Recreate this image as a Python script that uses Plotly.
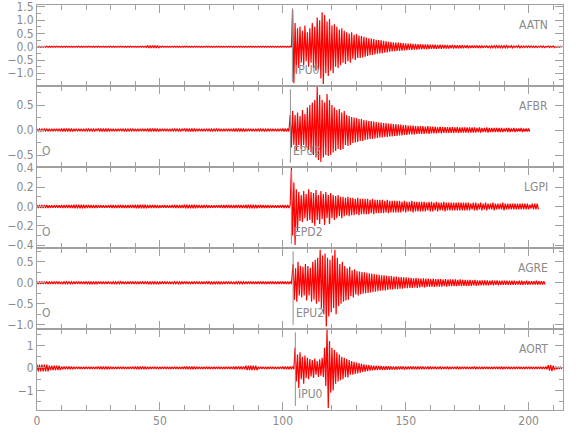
import plotly.graph_objects as go
from plotly.subplots import make_subplots

# ---------------- data ----------------
stations = ["AATN", "AFBR", "LGPI", "AGRE", "AORT"]
phase_names = ["IPU0", "EPU2", "EPD2", "EPU2", "IPU0"]
phase_times = [103.9, 103.1, 103.5, 104.2, 105.1]
origin_label = "O"
origin_time = 0.8
origin_panels = [1, 2, 3]

x_tick_vals = [0, 50, 100, 150, 200]
x_range = [0, 214]

y_ranges = [[-1.48, 1.575], [-0.74, 0.88], [-0.43, 0.41], [-1.1, 0.83], [-1.87, 1.73]]
y_tickvals = [[1.5, 1.0, 0.5, 0.0, -0.5, -1.0], [0.5, 0.0, -0.5], [0.4, 0.2, 0.0, -0.2, -0.4],
              [0.5, 0.0, -0.5, -1.0], [1, 0, -1]]
y_minor = [0.25, 0.25, 0.1, 0.25, 0.5]
y_formats = [".1f", ".1f", ".1f", ".1f", "d"]

# pre-event noise amplitude, per 5 s bin
noise_1 = [0.02, 0.02, 0.02, 0.02, 0.02, 0.02, 0.02, 0.02, 0.02, 0.05, 0.02, 0.02, 0.02, 0.02, 0.02, 0.02, 0.02, 0.02, 0.02, 0.02, 0.02]
noise_2 = [0.02, 0.025, 0.03, 0.025, 0.02, 0.03, 0.025, 0.02, 0.025, 0.03, 0.025, 0.02, 0.03, 0.025, 0.02, 0.025, 0.03, 0.025, 0.02, 0.025, 0.03]
noise_3 = [0.015, 0.012, 0.015, 0.018, 0.015, 0.012, 0.015, 0.015, 0.018, 0.015, 0.012, 0.015, 0.018, 0.015, 0.012, 0.015, 0.015, 0.018, 0.015, 0.012, 0.015]
noise_4 = [0.03, 0.03, 0.025, 0.03, 0.035, 0.03, 0.025, 0.03, 0.03, 0.035, 0.03, 0.025, 0.03, 0.03, 0.035, 0.03, 0.025, 0.03, 0.03, 0.03, 0.03]
noise_5 = [0.15, 0.10, 0.06, 0.05, 0.05, 0.06, 0.05, 0.05, 0.06, 0.05, 0.05, 0.05, 0.06, 0.05, 0.05, 0.05, 0.06, 0.10, 0.05, 0.05, 0.06]

# strong part: per-second peak (hi) and trough (lo) values from the onset
hi_1 = [1.40, 0.90, 0.70, 0.75, 0.60, 0.80, 0.55, 0.70, 0.90, 0.75, 1.10, 1.00, 1.30, 1.20, 0.95, 1.05, 0.80, 0.85, 0.75, 0.65, 0.70, 0.60, 0.55, 0.50, 0.55, 0.45, 0.48]
lo_1 = [-1.38, -1.00, -0.80, -0.60, -0.70, -0.55, -0.75, -0.60, -0.80, -0.90, -0.85, -1.20, -1.40, -1.00, -1.10, -0.90, -1.00, -0.75, -0.80, -0.70, -0.60, -0.65, -0.55, -0.60, -0.45, -0.50, -0.42]
hi_2 = [0.30, 0.38, 0.30, 0.35, 0.28, 0.40, 0.32, 0.45, 0.50, 0.55, 0.60, 0.86, 0.70, 0.60, 0.55, 0.72, 0.60, 0.50, 0.45, 0.40, 0.42, 0.35, 0.38, 0.30, 0.28]
lo_2 = [-0.35, -0.30, -0.40, -0.30, -0.38, -0.30, -0.35, -0.40, -0.45, -0.50, -0.55, -0.60, -0.64, -0.55, -0.50, -0.52, -0.50, -0.45, -0.42, -0.38, -0.40, -0.38, -0.30, -0.32, -0.30]
hi_3 = [0.40, 0.25, 0.18, 0.15, 0.12, 0.16, 0.13, 0.18, 0.15, 0.14, 0.17, 0.12, 0.16, 0.13, 0.15, 0.12, 0.14, 0.12, 0.11, 0.12, 0.10]
lo_3 = [-0.30, -0.40, -0.25, -0.15, -0.16, -0.12, -0.15, -0.14, -0.17, -0.20, -0.14, -0.18, -0.13, -0.19, -0.12, -0.18, -0.12, -0.14, -0.12, -0.10, -0.12]
hi_4 = [0.45, 0.35, 0.50, 0.40, 0.38, 0.45, 0.40, 0.36, 0.50, 0.55, 0.60, 0.79, 0.65, 0.70, 0.60, 0.55, 0.65, 0.79, 0.60, 0.45, 0.50, 0.40, 0.35, 0.38, 0.30, 0.32, 0.28]
lo_4 = [-0.40, -0.45, -0.30, -0.35, -0.30, -0.42, -0.30, -0.45, -0.40, -0.50, -0.45, -0.60, -0.75, -1.04, -0.80, -0.70, -0.60, -0.75, -0.55, -0.50, -0.45, -0.42, -0.40, -0.32, -0.35, -0.28, -0.30]
hi_5 = [0.89, 0.60, 0.70, 0.50, 0.55, 0.45, 0.40, 0.35, 0.42, 0.30, 0.38, 0.45, 0.90, 1.70, 1.20, 0.90, 0.80, 0.70, 0.60, 0.50, 0.45, 0.40, 0.35]
lo_5 = [-0.60, -0.89, -0.50, -0.70, -0.45, -0.50, -0.38, -0.45, -0.30, -0.40, -0.35, -0.40, -0.80, -1.78, -1.10, -1.00, -0.70, -0.60, -0.55, -0.50, -0.40, -0.42, -0.30]

# coda: per-second amplitude after the strong part
tail_1 = [0.42, 0.40, 0.38, 0.35, 0.32, 0.31, 0.29, 0.26, 0.25, 0.24,
          0.22, 0.21, 0.19, 0.18, 0.17, 0.16, 0.16, 0.15, 0.14, 0.13,
          0.12, 0.12, 0.11, 0.11, 0.10, 0.10, 0.09, 0.09, 0.09, 0.08,
          0.08, 0.08, 0.07, 0.08, 0.07, 0.07, 0.07, 0.06, 0.07, 0.06,
          0.06, 0.06, 0.06, 0.05, 0.06, 0.05, 0.05, 0.05, 0.05, 0.05,
          0.05, 0.04, 0.05, 0.04, 0.04, 0.04, 0.04, 0.04, 0.04, 0.04,
          0.04, 0.03, 0.04, 0.03, 0.03, 0.04, 0.03, 0.03, 0.03, 0.03,
          0.03, 0.03, 0.03, 0.02, 0.03, 0.03, 0.02, 0.03, 0.02, 0.03, 0.02, 0.02, 0.02]
tail_2 = [0.26, 0.25, 0.24, 0.22, 0.22, 0.20, 0.19, 0.18, 0.18, 0.17,
          0.16, 0.15, 0.15, 0.14, 0.14, 0.13, 0.13, 0.12, 0.12, 0.11,
          0.11, 0.10, 0.10, 0.09, 0.09, 0.09, 0.08, 0.08, 0.08, 0.08,
          0.07, 0.08, 0.07, 0.07, 0.07, 0.06, 0.07, 0.06, 0.06, 0.06,
          0.06, 0.06, 0.05, 0.06, 0.05, 0.05, 0.05, 0.05, 0.05, 0.05,
          0.05, 0.04, 0.05, 0.04, 0.04, 0.05, 0.04, 0.04, 0.04, 0.04,
          0.04, 0.04, 0.03, 0.04, 0.04, 0.03, 0.04, 0.03, 0.03, 0.04, 0.03, 0.03, 0.03]
tail_3 = [0.10, 0.09, 0.10, 0.09, 0.09, 0.08, 0.09, 0.08, 0.08, 0.08,
          0.08, 0.07, 0.08, 0.07, 0.07, 0.07, 0.07, 0.06, 0.07, 0.06,
          0.06, 0.06, 0.06, 0.06, 0.05, 0.06, 0.05, 0.05, 0.06, 0.05,
          0.05, 0.05, 0.05, 0.05, 0.04, 0.05, 0.05, 0.04, 0.05, 0.04,
          0.04, 0.05, 0.04, 0.04, 0.04, 0.04, 0.04, 0.04, 0.04, 0.04,
          0.04, 0.04, 0.03, 0.04, 0.04, 0.03, 0.04, 0.03, 0.04, 0.03,
          0.03, 0.04, 0.03, 0.03, 0.03, 0.04, 0.03, 0.03, 0.03, 0.03,
          0.03, 0.03, 0.03, 0.03, 0.03, 0.03, 0.02, 0.03, 0.03, 0.03]
tail_4 = [0.27, 0.26, 0.25, 0.24, 0.23, 0.22, 0.21, 0.20, 0.19, 0.18,
          0.18, 0.17, 0.16, 0.16, 0.15, 0.15, 0.14, 0.14, 0.13, 0.13,
          0.12, 0.12, 0.11, 0.12, 0.11, 0.10, 0.11, 0.10, 0.10, 0.09,
          0.10, 0.09, 0.09, 0.09, 0.08, 0.09, 0.08, 0.08, 0.08, 0.08,
          0.07, 0.08, 0.07, 0.07, 0.07, 0.07, 0.06, 0.07, 0.06, 0.06,
          0.06, 0.06, 0.06, 0.05, 0.06, 0.05, 0.06, 0.05, 0.05, 0.05,
          0.05, 0.05, 0.05, 0.05, 0.04, 0.05, 0.05, 0.04, 0.05, 0.04,
          0.04, 0.04, 0.05, 0.04, 0.04, 0.04]
tail_5 = [0.30, 0.27, 0.24, 0.21, 0.18, 0.16, 0.14, 0.12,
          0.11, 0.10, 0.10, 0.09, 0.09, 0.08, 0.08, 0.08, 0.07, 0.07,
          0.07, 0.07, 0.06, 0.07, 0.06, 0.06, 0.06, 0.06, 0.06, 0.06,
          0.06, 0.06, 0.05, 0.06, 0.06, 0.05, 0.06, 0.05, 0.06, 0.05,
          0.05, 0.06, 0.05, 0.05, 0.05, 0.06, 0.05, 0.05, 0.05, 0.05,
          0.05, 0.05, 0.06, 0.05, 0.05, 0.05, 0.05, 0.05, 0.05, 0.05,
          0.05, 0.05, 0.05, 0.06, 0.05, 0.05, 0.05, 0.05, 0.05, 0.05,
          0.05, 0.05, 0.05, 0.05, 0.05, 0.05, 0.05, 0.05, 0.05, 0.05,
          0.05, 0.06, 0.12, 0.14, 0.10, 0.06, 0.05, 0.05]

onsets = [104.0, 103.0, 103.5, 104.2, 105.0]
noises = [noise_1, noise_2, noise_3, noise_4, noise_5]
his = [hi_1, hi_2, hi_3, hi_4, hi_5]
los = [lo_1, lo_2, lo_3, lo_4, lo_5]
tails = [tail_1, tail_2, tail_3, tail_4, tail_5]

# ---------------- style ----------------
RED = "#ff0000"
AX = "#a0a0a0"
TXT = "#8a8a8a"
FONT = "DejaVu Sans Condensed, Liberation Sans Narrow, Arial Narrow, sans-serif"


def build(noise, onset, hi, lo, tail):
    xs, ys = [], []
    for k in range(int(onset * 2)):
        t = k * 0.5
        a = noise[min(int(t // 5), len(noise) - 1)]
        xs.append(t)
        ys.append(a if k % 2 == 0 else -a)
    for i, (h, l) in enumerate(zip(hi, lo)):
        t = onset + i
        xs += [t, t + 0.5]
        ys += [h, l]
    start = onset + len(hi)
    for i, a in enumerate(tail):
        t = start + i
        xs += [t, t + 0.5]
        ys += [a, -a]
    return xs, ys


fig = make_subplots(rows=5, cols=1, shared_xaxes=True, vertical_spacing=0)

for r in range(5):
    xs, ys = build(noises[r], onsets[r], his[r], los[r], tails[r])
    fig.add_trace(go.Scatter(x=xs, y=ys, mode="lines",
                             line=dict(color=RED, width=1.2),
                             showlegend=False, hoverinfo="skip"),
                  row=r + 1, col=1)

    fig.update_yaxes(range=y_ranges[r], tickvals=y_tickvals[r],
                     tickformat=y_formats[r], row=r + 1, col=1, automargin=False,
                     ticklabeloverflow="allow",
                     showline=True, linecolor=AX, linewidth=1, mirror="ticks",
                     ticks="inside", ticklen=8, tickcolor=AX,
                     minor=dict(dtick=y_minor[r], tick0=0, ticks="inside", ticklen=4, tickcolor=AX),
                     showgrid=False, zeroline=False,
                     tickfont=dict(family=FONT, size=12, color=TXT))
    fig.update_xaxes(range=x_range, tickvals=x_tick_vals, row=r + 1, col=1, automargin=False,
                     showline=True, linecolor=AX, linewidth=1, mirror="ticks",
                     ticks="inside", ticklen=8, tickcolor=AX,
                     minor=dict(dtick=10, tick0=0, ticks="inside", ticklen=5, tickcolor=AX),
                     showgrid=False, zeroline=False,
                     tickfont=dict(family=FONT, size=12, color=TXT))

    yref = "y domain" if r == 0 else f"y{r + 1} domain"
    xref = "x" if r == 0 else f"x{r + 1}"
    # station name
    fig.add_annotation(text=stations[r], xref="x domain" if r == 0 else f"x{r + 1} domain",
                       yref=yref, x=0.976, y=0.75, xanchor="right", yanchor="middle",
                       showarrow=False, font=dict(family=FONT, size=12, color=TXT))
    # phase pick line + label
    fig.add_shape(type="line", xref=xref, yref=yref,
                  x0=phase_times[r], x1=phase_times[r], y0=0.05, y1=0.96,
                  line=dict(color="#909090", width=1))
    fig.add_annotation(text=phase_names[r], xref=xref, yref=yref,
                       x=phase_times[r], y=0.2, xanchor="left", yanchor="middle",
                       xshift=1, showarrow=False,
                       font=dict(family=FONT, size=12, color=TXT))
    if r in origin_panels:
        fig.add_annotation(text=origin_label, xref=xref, yref=yref,
                           x=origin_time, y=0.2, xanchor="left", yanchor="middle",
                           xshift=1, showarrow=False,
                           font=dict(family=FONT, size=12, color=TXT))

fig.update_layout(width=580, height=440,
                  margin=dict(l=37, r=17, t=5, b=30, autoexpand=False),
                  paper_bgcolor="white", plot_bgcolor="white",
                  showlegend=False)

fig.write_html("out.html", config={"displayModeBar": False},
               post_script="document.body.style.margin='0px';document.body.style.overflow='hidden';")
